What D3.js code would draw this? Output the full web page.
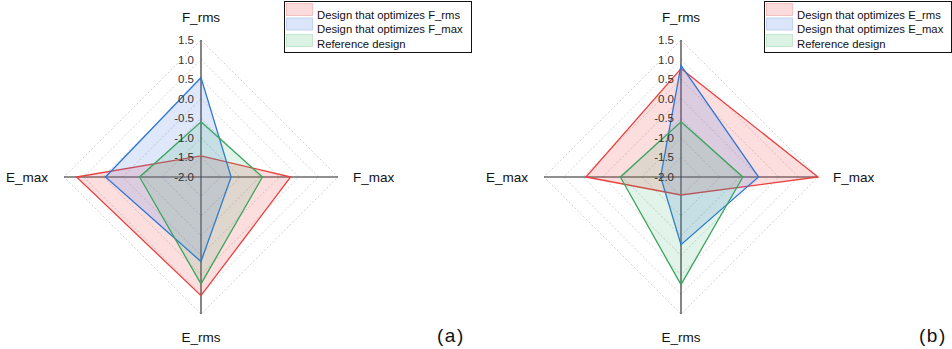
<!DOCTYPE html>
<html>
<head>
<meta charset="utf-8">
<script src="https://cdn.jsdelivr.net/npm/d3@7"></script>
<style>
  html, body { margin: 0; padding: 0; background: #fff; }
  svg { display: block; font-family: "Liberation Sans", Arial, sans-serif; }
</style>
</head>
<body>
<svg id="chart" width="952" height="349"></svg>
<script>
// Axes, clockwise from the top
const axesA = ["F_rms", "F_max", "E_rms", "E_max"];
const axesB = ["F_rms", "F_max", "E_rms", "E_max"];

// Radial tick values
const tickValues = [-2.0, -1.5, -1.0, -0.5, 0.0, 0.5, 1.0, 1.5];

// Panel (a)
const optFrmsA = [-1.46, 0.29, 1.03, 1.18];
const optFmaxA = [0.54, -1.23, 0.16, 0.44];
const referenceA = [-0.59, -0.43, 0.73, -0.43];
const legendA = ["Design that optimizes F_rms", "Design that optimizes F_max", "Reference design"];

// Panel (b)
const optErmsB = [0.77, 1.5, -1.54, 0.43];
const optEmaxB = [0.85, -0.02, -0.27, -1.48];
const referenceB = [-0.59, -0.42, 0.75, -0.45];
const legendB = ["Design that optimizes E_rms", "Design that optimizes E_max", "Reference design"];

const strokes = ["#e8403f", "#2f74d8", "#3aa45e"];
const fills = ["rgba(236,70,70,0.18)", "rgba(70,125,230,0.18)", "rgba(60,175,110,0.15)"];
const swatchFill = ["#fbdcdc", "#dce6fb", "#dcf2e4"];
const swatchStroke = ["#f3b5b5", "#b5c9f1", "#b8e2c6"];

const svg = d3.select("#chart");

function drawRadar(cx, cy, axes, seriesList, legendLabels, legendX, tag, tagX) {
  const g = svg.append("g").attr("transform", `translate(${cx},${cy})`);
  const r = d3.scaleLinear().domain([-2, 1.5]).range([0, 137]);
  const angle = d3.scaleLinear().domain([0, axes.length]).range([0, 2 * Math.PI]);
  const pt = (v, i) => {
    const a = angle(i);
    return [Math.sin(a) * r(v), -Math.cos(a) * r(v)];
  };

  // Dotted grid rings
  tickValues.filter(t => t > -2).forEach(t => {
    g.append("path")
      .attr("d", d3.line()(axes.map((_, i) => pt(t, i))) + "Z")
      .attr("fill", "none")
      .attr("stroke", "#c8c8c8")
      .attr("stroke-width", 0.8)
      .attr("stroke-dasharray", "2,2");
  });

  // Axis spokes
  axes.forEach((_, i) => {
    const [x, y] = pt(1.5, i);
    g.append("line")
      .attr("x1", 0).attr("y1", 0).attr("x2", x).attr("y2", y)
      .attr("stroke", "#222").attr("stroke-width", 1.1);
  });

  // Series polygons
  seriesList.forEach((vals, k) => {
    g.append("path")
      .attr("d", d3.line()(vals.map((v, i) => pt(v, i))) + "Z")
      .attr("fill", fills[k])
      .attr("stroke", strokes[k])
      .attr("stroke-width", 1.3)
      .attr("stroke-linejoin", "miter");
  });

  // Radial tick labels along the top spoke
  g.selectAll("text.tick").data(tickValues).join("text")
    .attr("class", "tick")
    .attr("x", -7)
    .attr("y", d => -r(d))
    .attr("dy", "0.35em")
    .attr("text-anchor", "end")
    .attr("font-size", 11.5)
    .attr("fill", "#333")
    .text(d => d3.format(".1f")(d).replace("−", "-"));

  // Axis titles
  const titlePos = [
    { x: 0, y: -155, anchor: "middle" },
    { x: 152, y: 5, anchor: "start" },
    { x: 0, y: 165, anchor: "middle" },
    { x: -153, y: 5, anchor: "end" }
  ];
  axes.forEach((name, i) => {
    g.append("text")
      .attr("x", titlePos[i].x).attr("y", titlePos[i].y)
      .attr("text-anchor", titlePos[i].anchor)
      .attr("font-size", 13.5)
      .attr("fill", "#111")
      .text(name);
  });

  // Legend
  const lg = svg.append("g").attr("transform", `translate(${legendX},1)`);
  lg.append("rect").attr("x", 0.5).attr("y", 0.5).attr("width", 187).attr("height", 51)
    .attr("fill", "#fff").attr("stroke", "#111").attr("stroke-width", 1);
  legendLabels.forEach((lab, k) => {
    lg.append("rect")
      .attr("x", 2.5).attr("y", 8 + k * 14.5 - 5.5 + (k === 2 ? 2 : 0))
      .attr("width", 26).attr("height", 12)
      .attr("fill", swatchFill[k]).attr("stroke", swatchStroke[k]).attr("stroke-width", 0.8);
    lg.append("text")
      .attr("x", 33).attr("y", 14 + k * 14.5 + (k === 2 ? 0.5 : 0))
      .attr("dy", "0.35em")
      .attr("font-size", 11.3)
      .attr("fill", "#111")
      .text(lab);
  });

  // Panel tag
  svg.append("text")
    .attr("x", tagX).attr("y", 342)
    .attr("font-size", 19)
    .attr("letter-spacing", 1.5)
    .attr("fill", "#111")
    .text(tag);
}

drawRadar(201, 177, axesA, [optFrmsA, optFmaxA, referenceA], legendA, 284, "(a)", 437);
drawRadar(681, 177, axesB, [optErmsB, optEmaxB, referenceB], legendB, 764, "(b)", 919);
</script>
</body>
</html>
